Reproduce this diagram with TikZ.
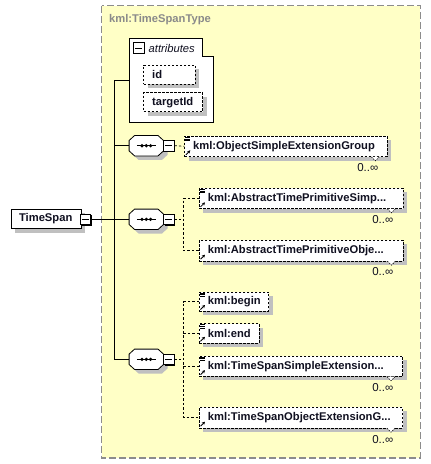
\documentclass[tikz,border=0pt]{standalone}
\usepackage{fontspec}
\setmainfont{Liberation Sans}
\usetikzlibrary{shadows,arrows.meta}
\definecolor{typebg}{HTML}{FFFFC6}
\definecolor{typeborder}{HTML}{8C8C8C}
\definecolor{shadowgray}{HTML}{C0C0C0}
\definecolor{titlegray}{HTML}{8A8A8A}
\definecolor{txt}{HTML}{101020}
\tikzset{
  sh/.style={general shadow={fill=shadowgray, shadow xshift=4pt, shadow yshift=-4pt}},
  elem/.style={draw=black, fill=white, dash pattern=on 2.5pt off 1.5pt, line width=0.7pt,
    rectangle, anchor=north west, minimum height=20.5pt, inner xsep=8.5pt, inner ysep=0pt,
    font=\fontsize{11.2}{13}\selectfont\bfseries, text=txt, sh},
  attrbox/.style={draw=black, fill=white, dash pattern=on 2.5pt off 1.5pt, line width=0.7pt,
    rectangle, anchor=north west, minimum height=19pt, inner xsep=8.5pt, inner ysep=0pt,
    font=\fontsize{11.2}{13}\selectfont\bfseries, text=txt, sh},
  seqbox/.style={rectangle, minimum width=34pt, minimum height=20pt, inner sep=0pt},
  minusbox/.style={draw=black, fill=white, line width=0.8pt, minimum size=10.5pt, inner sep=0pt,
    general shadow={fill=black, shadow xshift=1pt, shadow yshift=-1pt}},
  con/.style={draw=black, line width=0.8pt},
  dcon/.style={draw=black, line width=0.7pt, dash pattern=on 2.5pt off 2pt},
  mult/.style={font=\fontsize{11.5}{13}\selectfont, text=txt, inner sep=0pt, anchor=east},
  icon/.style={draw=black, line width=0.8pt, solid}
}
\newcommand{\eicons}[2]{%
  \ifnum#2=1
  \draw[icon] ([xshift=1pt,yshift=-1.5pt]#1.north west) -- ++(4.5,0);
  \draw[icon] ([xshift=1pt,yshift=-3.3pt]#1.north west) -- ++(4.5,0);
  \draw[icon] ([xshift=1pt,yshift=-5.1pt]#1.north west) -- ++(4.5,0);
  \fi
  \draw[icon,-{Stealth[length=3pt,width=3.2pt]}] ([xshift=1.5pt,yshift=2pt]#1.south west) -- ++(4.5,-4.5);
}
\newcommand{\notch}[2]{%
  \draw[black, line width=0.6pt, dash pattern=on 1.5pt off 1pt, fill=white]
    ([xshift=-#2 pt]#1.south east) ++(-4,0) -- ++(4,4) -- ++(4,-4);
}
\newcommand{\minusline}[1]{\draw[black,line width=0.9pt] ([xshift=2pt]#1.west) -- ([xshift=-2pt]#1.east);}
\newcommand{\octpath}[3]{([xshift=#2+5.5pt,yshift=#3]#1.north west) -- ([xshift=#2-5.5pt,yshift=#3]#1.north east) -- ([xshift=#2,yshift=#3-5pt]#1.north east) -- ([xshift=#2,yshift=#3+5pt]#1.south east) -- ([xshift=#2-5.5pt,yshift=#3]#1.south east) -- ([xshift=#2+5.5pt,yshift=#3]#1.south west) -- ([xshift=#2,yshift=#3+5pt]#1.south west) -- ([xshift=#2,yshift=#3-5pt]#1.north west) -- cycle}
\newcommand{\seqdraw}[1]{%
  \fill[shadowgray] \octpath{#1}{4pt}{-4pt};
  \filldraw[fill=white,draw=black,line width=0.8pt] \octpath{#1}{0pt}{0pt};
  \draw[black,line width=0.9pt] ([xshift=-9.5pt]#1.center) -- ([xshift=9.5pt]#1.center);
  \fill[black] ([xshift=-4.3pt]#1.center) circle (1.8pt);
  \fill[black] (#1.center) circle (1.8pt);
  \fill[black] ([xshift=4.3pt]#1.center) circle (1.8pt);
}
\begin{document}
\begin{tikzpicture}[x=1pt,y=-1pt]
\useasboundingbox (0,0) rectangle (431,464);
% complex type box
\draw[fill=typebg, draw=typeborder, line width=1.3pt, dash pattern=on 7pt off 3pt] (101.7,5.7) rectangle (420.3,458);
\node[anchor=west, inner sep=0pt, font=\fontsize{11.2}{13}\selectfont\bfseries, text=titlegray] (title) at (109,19.5) {kml:TimeSpanType};

% attributes box
\draw[fill=white, draw=black, line width=0.8pt] (129.3,38.3) -- (202,38.3) -- (202,56.7) -- (213.3,56.7) -- (213.3,122.3) -- (129.3,122.3) -- cycle;
\coordinate (attrL) at (129.3,80);
\node[minusbox, general shadow={}] (am) at (138.7,48) {};
\minusline{am}
\node[anchor=west, inner sep=0pt, font=\fontsize{11.2}{13}\selectfont\itshape, text=txt] (attrlbl) at (148.5,48.5) {attributes};
\node[attrbox, minimum width=51.7pt] (id) at (143.3,65) {\makebox[34.7pt][l]{id}};
\node[attrbox, minimum width=59pt] (tid) at (143.3,92.3) {\makebox[42pt][l]{targetId}};

% root element
\node[draw=black, fill=white, line width=0.7pt, anchor=north west, minimum width=70.3pt, minimum height=19.3pt, inner xsep=8pt, inner ysep=0pt, font=\fontsize{11.2}{13}\selectfont\bfseries, text=txt, sh] (ts) at (10.7,209) {\makebox[54.3pt][l]{TimeSpan}};
\node[minusbox] (tsm) at (85.5,219.3) {};
\minusline{tsm}

% sequences
\node[seqbox] (seq1) at (146.3,145.7) {};
\node[seqbox] (seq2) at (146.3,219.3) {};
\node[seqbox] (seq3) at (146.3,359.3) {};
\seqdraw{seq1}\seqdraw{seq2}\seqdraw{seq3}
\node[minusbox] (m1) at (168.8,145.7) {};
\node[minusbox] (m2) at (168.8,219.3) {};
\node[minusbox] (m3) at (168.8,359.3) {};
\minusline{m1}\minusline{m2}\minusline{m3}

% tree connectors
\coordinate (vtop) at (114.3,80);
\coordinate (vbot) at (114.3,359.3);
\coordinate (j1) at (114.3,145.7);
\draw[con] (attrL) -- (vtop) -- (vbot) -- (seq3.west);
\draw[con] (j1) -- (seq1.west);
\draw[con] (tsm.east) -- (seq2.west);

% elements
\node[elem, minimum width=202.4pt] (oseg) at (184.3,135.7) {\makebox[185.4pt][l]{kml:ObjectSimpleExtensionGroup}};
\node[elem, minimum width=203.7pt] (atps) at (199,187.7) {\makebox[186.7pt][l]{kml:AbstractTimePrimitiveSimp...}};
\node[elem, minimum width=203.7pt] (atpo) at (199,240) {\makebox[186.7pt][l]{kml:AbstractTimePrimitiveObje...}};
\node[elem, minimum width=69.3pt, minimum height=19.3pt] (begin) at (199,291.5) {\makebox[52.3pt][l]{kml:begin}};
\node[elem, minimum width=59.7pt, minimum height=19.3pt] (end) at (199,323.3) {\makebox[42.7pt][l]{kml:end}};
\node[elem, minimum width=203.3pt] (tsse) at (199,355.5) {\makebox[186.3pt][l]{kml:TimeSpanSimpleExtension...}};
\node[elem, minimum width=203.3pt] (tsoe) at (199,407) {\makebox[186.3pt][l]{kml:TimeSpanObjectExtensionG...}};
\eicons{oseg}{1}\eicons{atps}{1}\eicons{atpo}{0}\eicons{begin}{1}\eicons{end}{1}\eicons{tsse}{1}\eicons{tsoe}{0}
\notch{oseg}{12}\notch{atps}{12}\notch{atpo}{12}\notch{tsse}{12}\notch{tsoe}{12}

% multiplicities
\node[mult] (mu1) at (378.5,167.5) {0..∞};
\node[mult] (mu2) at (393.5,219.5) {0..∞};
\node[mult] (mu3) at (393.5,272) {0..∞};
\node[mult] (mu4) at (393.5,387.8) {0..∞};
\node[mult] (mu5) at (393.5,439.5) {0..∞};

% dashed connectors
\coordinate (b2) at (183.3,219.3);
\coordinate (b3) at (183.3,359.3);
\draw[dcon] (m1.east) -- (oseg.west);
\draw[dcon] (m2.east) -- (b2);
\draw[dcon] (atps.west) -| (b2) |- (atpo.west);
\draw[dcon] (m3.east) -- (b3);
\draw[dcon] (begin.west) -| (b3) |- (tsoe.west);
\draw[dcon] (end.west) -- (end.west -| b3);
\draw[dcon] (tsse.west) -- (tsse.west -| b3);
\end{tikzpicture}
\end{document}
